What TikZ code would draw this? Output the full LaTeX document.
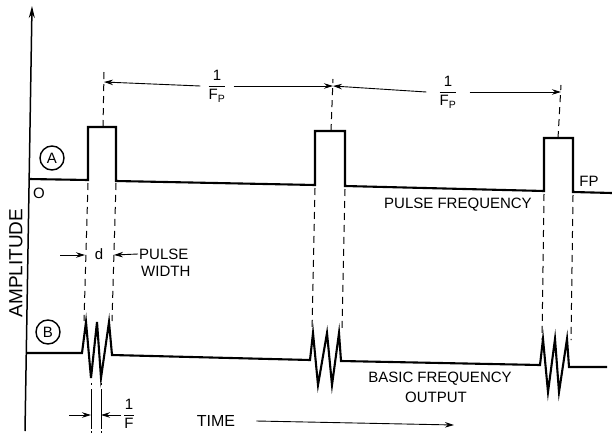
\documentclass[tikz,border=0pt]{standalone}
\usepackage{amsmath}
\usepackage{fontspec}
\setmainfont{Liberation Sans}
\usepackage{tikz}
\usetikzlibrary{arrows.meta}
\tikzstyle{signal} = [line width=2.1pt, line join=miter]
\tikzstyle{guide} = [line width=1pt, dash pattern=on 7pt off 5pt]
\tikzstyle{tick} = [line width=1pt, dash pattern=on 2pt off 4pt on 40pt]
\tikzstyle{dim} = [line width=0.9pt, -{Stealth[length=9pt,width=5.5pt]}]
\tikzstyle{lbl} = [font=\fontsize{15}{16}\selectfont, inner sep=1pt]
\tikzstyle{tag} = [circle, draw, line width=1.4pt, minimum size=24pt, inner sep=0pt, font=\fontsize{15}{16}\selectfont]

\begin{document}
\begin{tikzpicture}[x=1pt,y=-1pt]
    \useasboundingbox (0,0) rectangle (612,433);

    % axis
    \draw [line width=1.5pt, -{Stealth[length=12pt,width=6pt]}] (25,431) -- (32,6);
    \node (amp) [lbl, rotate=90, font=\fontsize{19}{19}\selectfont] at (16,263) {AMPLITUDE};
    \node (zero) [lbl] at (39,193) {O};
    \node (tagA) [tag] at (52,158) {A};
    \node (tagB) [tag] at (48,332) {B};

    % signal A
    \draw [signal] (29,179) -- (88,180) -- (88,127) -- (116,127) -- (116,181)
        -- (315,185) -- (315,131) -- (345,131) -- (345,186)
        -- (544,191) -- (544,138) -- (573,138) -- (573,192) -- (612,193);
    \node (fp) [lbl] at (589,181) {FP};
    \node (pfreq) [lbl] at (458,205) {PULSE FREQUENCY};

    % signal B
    \draw [signal] (26,353) -- (82,353) -- (86,322) -- (91,378) -- (97,322) -- (101,378) -- (109,322) -- (112,355)
        -- (310,360) -- (313,333) -- (318,385) -- (327,333) -- (332,385) -- (339,333) -- (341,361)
        -- (540,365) -- (543,339) -- (548,392) -- (555,339) -- (559,392) -- (567,339) -- (569,367)
        -- (607,367);
    \node (bfreq) [lbl] at (440,379) {BASIC FREQUENCY};
    \node (out) [lbl] at (436,397) {OUTPUT};

    % pulse edges down to B
    \draw [guide] (88,183) -- (84,321);
    \draw [guide] (116,183) -- (112,321);
    \draw [guide] (315,188) -- (312,332);
    \draw [guide] (345,189) -- (342,332);
    \draw [guide] (544,194) -- (542,340);
    \draw [guide] (573,195) -- (571,340);

    % pulse period
    \coordinate (p1) at (104,82);
    \coordinate (p2) at (333,86);
    \coordinate (p3) at (561,92);
    \draw [guide] (103,127) -- (104,72);
    \draw [guide] (331,131) -- (333,79);
    \draw [guide] (558,138) -- (561,85);
    \node (per1) [lbl, inner xsep=7pt] at (217,86) {$\dfrac{\text{1}}{\text{F}_{\text{P}}}$};
    \node (per2) [lbl, inner xsep=12pt] at (448,92) {$\dfrac{\text{1}}{\text{F}_{\text{P}}}$};
    \draw [dim] (per1.west) -- (p1);
    \draw [dim] (per1.east) -- (p2);
    \draw [dim] (per2.west) -- (p2);
    \draw [dim] (per2.east) -- (p3);

    % pulse width
    \coordinate (dl) at (60,255);
    \node (d) [lbl] at (99,254) {d};
    \node (pulse) [lbl, anchor=west] at (138,254) {PULSE};
    \node (width) [lbl, anchor=west] at (140,271) {WIDTH};
    \draw [dim] (dl) -- (85,255);
    \draw [dim] (pulse.west) -- (114,255);

    % one cycle
    \draw [tick] (91,383) -- (91,433);
    \draw [tick] (101,383) -- (101,433);
    \coordinate (cl) at (69,415);
    \coordinate (cr) at (121,415);
    \draw [dim] (cl) -- (91,415);
    \draw [dim] (cr) -- (101,415);
    \node (invf) [lbl] at (129,414) {$\dfrac{\text{1}}{\text{F}}$};

    % time axis
    \node (time) [lbl, font=\fontsize{16}{16}\selectfont] at (216,421) {TIME};
    \coordinate (tend) at (454,425);
    \draw [dim] ([xshift=20pt]time.east) -- (tend);
\end{tikzpicture}
\end{document}
